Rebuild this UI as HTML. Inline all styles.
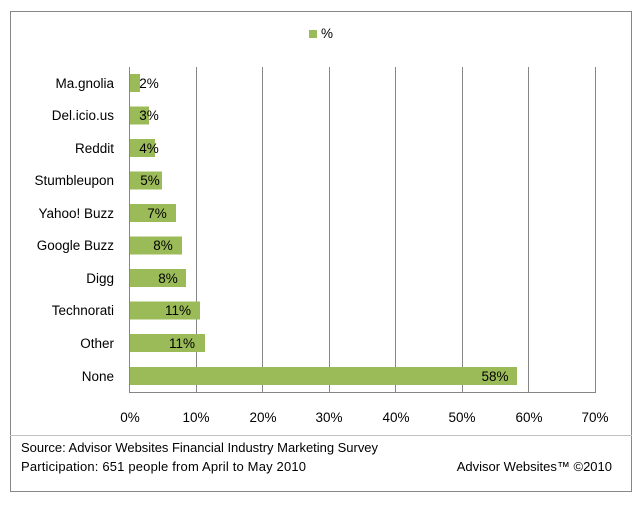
<!DOCTYPE html>
<html><head><meta charset="utf-8"><style>
body{margin:0;background:#fff;}
svg text{font-family:"Liberation Sans",sans-serif;font-size:13.5px;fill:#000;}
</style></head><body>
<svg width="640" height="503" xmlns="http://www.w3.org/2000/svg">
<rect x="10.5" y="11.5" width="621" height="480" fill="#fff" stroke="#878787"/>
<line x1="10" y1="435.5" x2="632" y2="435.5" stroke="#c0c0c0"/>
<rect x="309" y="30" width="8" height="8" fill="#9BBB59"/>
<text x="321" y="38">%</text>
<g stroke="#868686" stroke-width="1">
<line x1="196.5" y1="67" x2="196.5" y2="392"/>
<line x1="262.5" y1="67" x2="262.5" y2="392"/>
<line x1="329.5" y1="67" x2="329.5" y2="392"/>
<line x1="395.5" y1="67" x2="395.5" y2="392"/>
<line x1="462.5" y1="67" x2="462.5" y2="392"/>
<line x1="528.5" y1="67" x2="528.5" y2="392"/>
<line x1="595.5" y1="67" x2="595.5" y2="392"/>
<line x1="129.5" y1="67" x2="129.5" y2="392"/>
<line x1="129" y1="392.5" x2="596" y2="392.5"/>
</g>
<g fill="#9BBB59">
<rect x="130" y="74" width="10" height="18"/>
<rect x="130" y="106.5" width="19" height="18"/>
<rect x="130" y="139" width="25" height="18"/>
<rect x="130" y="171.5" width="32" height="18"/>
<rect x="130" y="204" width="46" height="18"/>
<rect x="130" y="236.5" width="52" height="18"/>
<rect x="130" y="269" width="56" height="18"/>
<rect x="130" y="301.5" width="70" height="18"/>
<rect x="130" y="334" width="75" height="18"/>
<rect x="130" y="367" width="387" height="18"/>
</g>
<g text-anchor="end">
<text x="114" y="88">Ma.gnolia</text>
<text x="114" y="120">Del.icio.us</text>
<text x="114" y="153">Reddit</text>
<text x="114" y="185">Stumbleupon</text>
<text x="114" y="218">Yahoo! Buzz</text>
<text x="114" y="250">Google Buzz</text>
<text x="114" y="283">Digg</text>
<text x="114" y="315">Technorati</text>
<text x="114" y="348">Other</text>
<text x="114" y="381">None</text>
</g>
<g text-anchor="middle">
<text x="149" y="88">2%</text>
<text x="149" y="120">3%</text>
<text x="149" y="153">4%</text>
<text x="150" y="185">5%</text>
<text x="157" y="218">7%</text>
<text x="163" y="250">8%</text>
<text x="168" y="283">8%</text>
<text x="178" y="315">11%</text>
<text x="182" y="348">11%</text>
<text x="495" y="381">58%</text>
</g>
<g text-anchor="middle">
<text x="130" y="422">0%</text>
<text x="196" y="422">10%</text>
<text x="263" y="422">20%</text>
<text x="329" y="422">30%</text>
<text x="396" y="422">40%</text>
<text x="462" y="422">50%</text>
<text x="529" y="422">60%</text>
<text x="595" y="422">70%</text>
</g>
<text x="21" y="452" style="font-size:13px" textLength="357">Source: Advisor Websites Financial Industry Marketing Survey</text>
<text x="21" y="471" style="font-size:13px" textLength="285">Participation: 651 people from April to May 2010</text>
<text x="612" y="471" text-anchor="end" style="font-size:13px">Advisor Websites™ ©2010</text>
</svg>
</body></html>
